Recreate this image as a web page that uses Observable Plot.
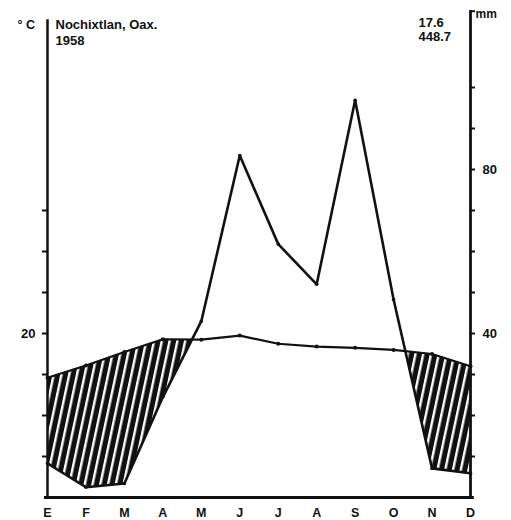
<!DOCTYPE html>
<html>
<head>
<meta charset="utf-8">
<script src="https://cdn.jsdelivr.net/npm/d3@7"></script>
<script src="https://cdn.jsdelivr.net/npm/@observablehq/plot@0.6"></script>
<style>
  html, body { margin: 0; padding: 0; background: #fff; }
  svg { display: block; }
</style>
</head>
<body>
<div id="chart"></div>
<script>
// ---- data ----
const months = ["E", "F", "M", "A", "M", "J", "J", "A", "S", "O", "N", "D"];
const tempC = [14.6, 16.1, 17.75, 19.3, 19.25, 19.75, 18.75, 18.4, 18.25, 18.0, 17.5, 16.0];
const precipMm = [8.3, 2.5, 3.4, 24.5, 43.0, 83.4, 61.8, 52.0, 96.9, 48.3, 7.1, 5.9];
const tempTicksC = [5, 10, 15, 20, 25, 30, 35];
const tempLabelsC = [20];
const precipTicksMm = [10, 20, 30, 40, 50, 60, 70, 80, 90, 100];
const precipLabelsMm = [40, 80];
const station = "Nochixtlan, Oax.";
const year = "1958";
const meanTemp = "17.6";
const totalPrecip = "448.7";

// Walter-Lieth convention: 10 °C = 20 mm
const rows = months.map((m, i) => ({i, m, t: tempC[i] * 2, p: precipMm[i]}));

// arid polygons (precip below temperature curve), split at curve crossings
const arid = [];
let g = 0;
for (let i = 0; i < rows.length; i++) {
  const r = rows[i];
  const a = r.t - r.p;
  if (a >= 0) arid.push({x: r.i, y1: r.p, y2: r.t, g});
  if (i < rows.length - 1) {
    const n = rows[i + 1];
    const b = n.t - n.p;
    if ((a >= 0) !== (b >= 0)) {
      const k = a / (a - b);
      const cx = r.i + k * (n.i - r.i);
      const cy = r.p + k * (n.p - r.p);
      arid.push({x: cx, y1: cy, y2: cy, g});
      if (a >= 0) g++;
    }
  }
}

const ink = "#111";
const font = "'Liberation Sans', Arial, sans-serif";

const svg = Plot.plot({
  width: 511,
  height: 520,
  marginLeft: 47,
  marginRight: 41,
  marginTop: 5,
  marginBottom: 23,
  style: {background: "#fff", fontFamily: font, color: ink},
  x: {domain: [0, 11], axis: null},
  y: {domain: [0, 120]},
  marks: [
    // hatched arid area
    Plot.areaY(arid, {x: "x", y1: "y1", y2: "y2", z: "g", fill: "url(#hatch)", curve: "linear"}),
    // axes lines
    Plot.ruleX([0], {y1: 0, y2: 116.5, stroke: ink, strokeWidth: 2.5}),
    Plot.ruleX([11], {y1: 0, y2: 118.8, stroke: ink, strokeWidth: 2.8}),
    Plot.ruleY([0], {x1: -0.08, x2: 11.1, stroke: ink, strokeWidth: 3}),
    Plot.axisY({
      anchor: "left",
      ticks: tempTicksC.map(d => d * 2),
      tickSize: 5,
      tickPadding: 7,
      strokeWidth: 2,
      tickFormat: d => tempLabelsC.includes(d / 2) ? String(d / 2) : "",
      fontSize: 13,
      fontWeight: "bold",
      label: null
    }),
    Plot.axisY({
      anchor: "right",
      ticks: precipTicksMm.concat([118.6]),
      tickSize: 4,
      tickPadding: 8,
      strokeWidth: 2,
      tickFormat: d => precipLabelsMm.includes(d) ? String(d) : "",
      fontSize: 13,
      fontWeight: "bold",
      label: null
    }),
    // temperature and precipitation curves
    Plot.lineY(rows, {x: "i", y: "t", stroke: ink, strokeWidth: 2.2, strokeLinejoin: "round"}),
    Plot.lineY(rows, {x: "i", y: "p", stroke: ink, strokeWidth: 2.6, strokeLinejoin: "round"}),
    Plot.dot(rows, {x: "i", y: "t", r: 2, fill: ink}),
    Plot.dot(rows, {x: "i", y: "p", r: 1.8, fill: ink}),
    // month labels
    Plot.text(rows, {x: "i", y: 0, text: "m", dy: 15, lineAnchor: "middle", fontSize: 12.5, fontWeight: "bold", fill: ink}),
    // header texts
    Plot.text([station], {frameAnchor: "top-left", dx: 8, dy: 23, textAnchor: "start", lineAnchor: "bottom", fontSize: 13, fontWeight: "bold", fill: ink}),
    Plot.text([year], {frameAnchor: "top-left", dx: 8, dy: 39, textAnchor: "start", lineAnchor: "bottom", fontSize: 13, fontWeight: "bold", fill: ink}),
    Plot.text(["° C"], {frameAnchor: "top-left", dx: -30, dy: 23, textAnchor: "start", lineAnchor: "bottom", fontSize: 12.5, fontWeight: "bold", fill: ink}),
    Plot.text([meanTemp], {frameAnchor: "top-right", dx: -52, dy: 21, textAnchor: "start", lineAnchor: "bottom", fontSize: 13, fontWeight: "bold", fill: ink}),
    Plot.text([totalPrecip], {frameAnchor: "top-right", dx: -52, dy: 35, textAnchor: "start", lineAnchor: "bottom", fontSize: 13, fontWeight: "bold", fill: ink}),
    Plot.text(["mm"], {frameAnchor: "top-right", dx: 5, dy: 12, textAnchor: "start", lineAnchor: "bottom", fontSize: 12, fontWeight: "bold", fill: ink})
  ]
});

d3.select(svg).insert("defs", ":first-child").html(
  '<pattern id="hatch" patternUnits="userSpaceOnUse" width="7.6" height="7.6" patternTransform="rotate(12)">' +
  '<rect width="7.6" height="7.6" fill="#111"/>' +
  '<rect x="0" y="0" width="2.4" height="7.6" fill="#fff"/>' +
  '</pattern>'
);

document.getElementById("chart").appendChild(svg);
</script>
</body>
</html>
